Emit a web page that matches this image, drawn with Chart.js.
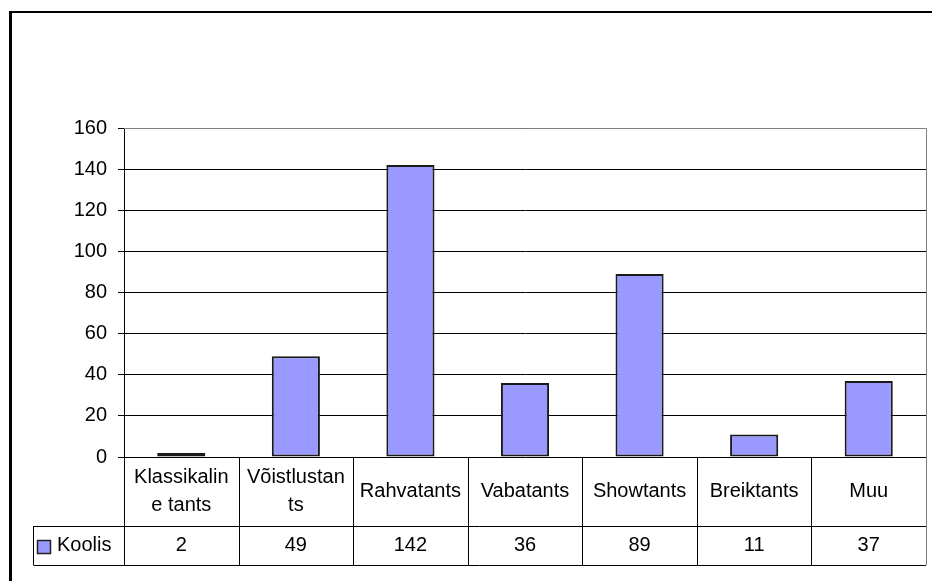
<!DOCTYPE html>
<html>
<head>
<meta charset="utf-8">
<script src="https://cdn.jsdelivr.net/npm/chart.js@4/dist/chart.umd.min.js"></script>
<style>
  body { margin: 0; background: #fff; }
  canvas { display: block; }
</style>
</head>
<body>
<canvas id="danceChart" width="932" height="581"></canvas>
<script>
// chart data
const categories = [
    ['Klassikalin', 'e tants'],
    ['Võistlustan', 'ts'],
    ['Rahvatants'],
    ['Vabatants'],
    ['Showtants'],
    ['Breiktants'],
    ['Muu']
];
const seriesName = 'Koolis';
const seriesValues = [2, 49, 142, 36, 89, 11, 37];
const yMin = 0;
const yMax = 160;
const yStep = 20;

const FONT = '"Liberation Sans", Arial, sans-serif';
const BAR_COLOR = '#9999FF';

// outer frame + data table under the plot area
const dataTablePlugin = {
    id: 'dataTable',
    beforeDraw(chart) {
        const ctx = chart.ctx;
        ctx.save();
        ctx.fillStyle = '#000';
        ctx.fillRect(9, 11, 3, chart.height - 11);
        ctx.fillRect(9, 11, chart.width - 9, 2);
        ctx.restore();
    },
    afterDraw(chart) {
        const ctx = chart.ctx;
        const area = chart.chartArea;
        const xScale = chart.scales.x;
        const n = categories.length;
        const colW = (area.right - area.left) / n;
        const labelTop = area.bottom;
        const labelBottom = area.bottom + 69;
        const valueBottom = labelBottom + 39;
        const legendLeft = 33.5;

        ctx.save();
        ctx.lineWidth = 1;

        // plot area border (top and right, grey)
        ctx.strokeStyle = '#808080';
        ctx.beginPath();
        ctx.moveTo(area.left, Math.round(area.top) + 0.5);
        ctx.lineTo(Math.round(area.right) + 0.5, Math.round(area.top) + 0.5);
        ctx.lineTo(Math.round(area.right) + 0.5, valueBottom);
        ctx.stroke();

        // table lines
        ctx.strokeStyle = '#000';
        ctx.beginPath();
        for (let i = 0; i < n; i++) {
            const x = Math.round(xScale.getPixelForValue(i) - colW / 2) + 0.5;
            ctx.moveTo(x, labelTop);
            ctx.lineTo(x, valueBottom);
        }
        ctx.moveTo(legendLeft, labelBottom + 0.5);
        ctx.lineTo(area.right, labelBottom + 0.5);
        ctx.moveTo(legendLeft, valueBottom + 0.5);
        ctx.lineTo(area.right, valueBottom + 0.5);
        ctx.moveTo(legendLeft, labelBottom);
        ctx.lineTo(legendLeft, valueBottom);
        ctx.stroke();

        // category labels and values
        ctx.fillStyle = '#000';
        ctx.font = '20px ' + FONT;
        ctx.textAlign = 'center';
        ctx.textBaseline = 'middle';
        const labelMid = (labelTop + labelBottom) / 2;
        const valueMid = (labelBottom + valueBottom) / 2;
        const lineH = 28;
        categories.forEach((lines, i) => {
            const cx = xScale.getPixelForValue(i);
            const y0 = labelMid - (lines.length - 1) * lineH / 2;
            lines.forEach((line, j) => ctx.fillText(line, cx, y0 + j * lineH));
            ctx.fillText(String(seriesValues[i]), cx, valueMid);
        });

        // legend key
        ctx.fillStyle = BAR_COLOR;
        ctx.fillRect(38, 541, 12, 12);
        ctx.strokeStyle = '#222';
        ctx.lineWidth = 1.5;
        ctx.strokeRect(37.5, 540.5, 13, 13);
        ctx.fillStyle = '#000';
        ctx.textAlign = 'left';
        ctx.fillText(seriesName, 57, valueMid);
        ctx.restore();
    }
};

const ctx = document.getElementById('danceChart').getContext('2d');
const danceChart = new Chart(ctx, {
    type: 'bar',
    data: {
        labels: categories.map(c => c.join('')),
        datasets: [{
            label: seriesName,
            data: seriesValues,
            backgroundColor: BAR_COLOR,
            borderColor: '#1a1a1a',
            borderWidth: 2,
            borderSkipped: false,
            categoryPercentage: 1,
            barPercentage: 0.42
        }]
    },
    options: {
        responsive: false,
        animation: false,
        devicePixelRatio: 1,
        layout: {
            padding: { top: 128, right: 6, left: 0, bottom: 0 }
        },
        scales: {
            x: {
                ticks: { display: false },
                grid: { display: false },
                border: { display: false },
                afterFit: (scale) => { scale.height = 124; }
            },
            y: {
                min: yMin,
                max: yMax,
                ticks: {
                    stepSize: yStep,
                    color: '#000',
                    padding: 11,
                    font: { family: FONT, size: 20 }
                },
                grid: {
                    color: '#000',
                    lineWidth: 1,
                    tickLength: 6
                },
                border: { display: true, color: '#000', width: 1 },
                afterFit: (scale) => { scale.width = 124; }
            }
        },
        plugins: {
            legend: { display: false },
            tooltip: { enabled: true }
        }
    },
    plugins: [dataTablePlugin]
});
</script>
</body>
</html>
